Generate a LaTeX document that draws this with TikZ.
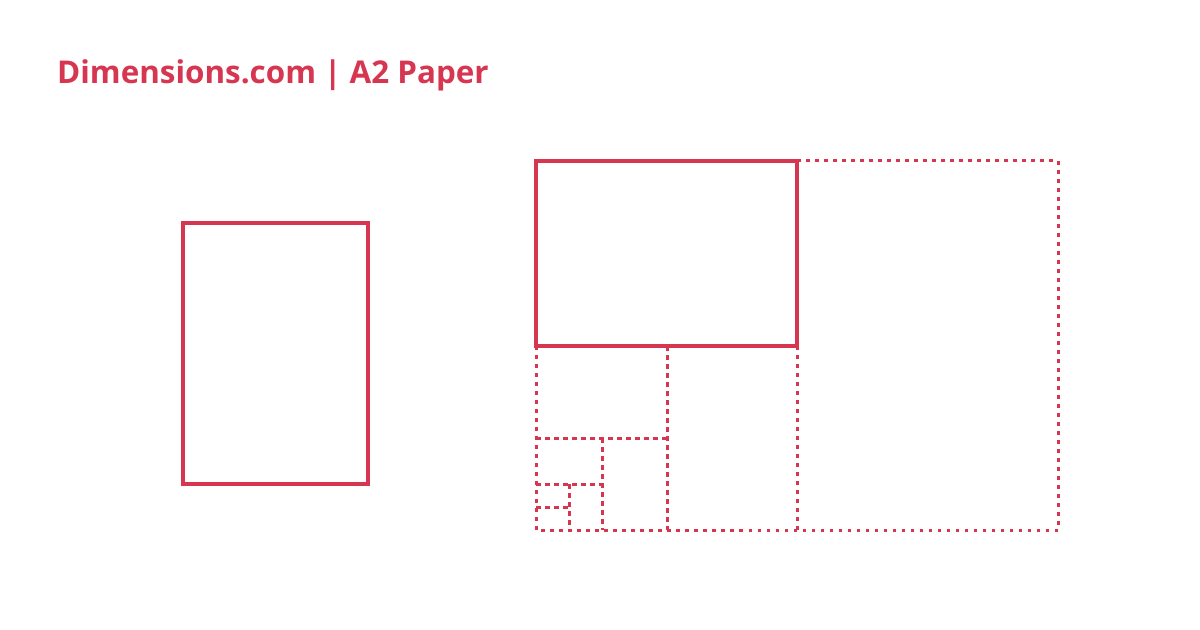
\documentclass[tikz,border=0pt]{standalone}
\usepackage{fontspec}
\setmainfont{Open Sans}
\usetikzlibrary{positioning}
\definecolor{dimred}{RGB}{214,54,80}
\tikzset{sheet/.style={draw=dimred, line width=3.2bp}}
\tikzset{fold/.style={draw=dimred, line width=3bp, dash pattern=on 3.5bp off 5.5bp}}
\tikzset{cut/.style={draw=dimred, line width=3bp, dash pattern=on 5bp off 4bp}}
\tikzset{ttl/.style={anchor=base west, inner sep=0pt, text=dimred, font=\fontsize{31.5}{36}\selectfont\bfseries}}

\begin{document}
\begin{tikzpicture}[x=1bp, y=-1bp]
\useasboundingbox (0,0) rectangle (1200,630);
\node (title) [ttl] at (57,83.5) {Dimensions.com | A2 Paper};

% single sheet
\draw[sheet] (183,223) rectangle (368,484);

% halving
\draw[fold] (797,161) -- (1058,161) -- (1058,530) -- (536,530);
\draw[fold] (797,346) -- (797,530);
\draw[fold] (536,346) -- (536,530);
\draw[cut] (667,346) -- (667,530);
\draw[cut] (536,438) -- (667,438);
\draw[cut] (602,438) -- (602,530);
\draw[cut] (536,484) -- (602,484);
\draw[cut] (569,484) -- (569,530);
\draw[cut] (536,507) -- (569,507);
\draw[sheet] (536,161) rectangle (797,346);
\end{tikzpicture}
\end{document}
